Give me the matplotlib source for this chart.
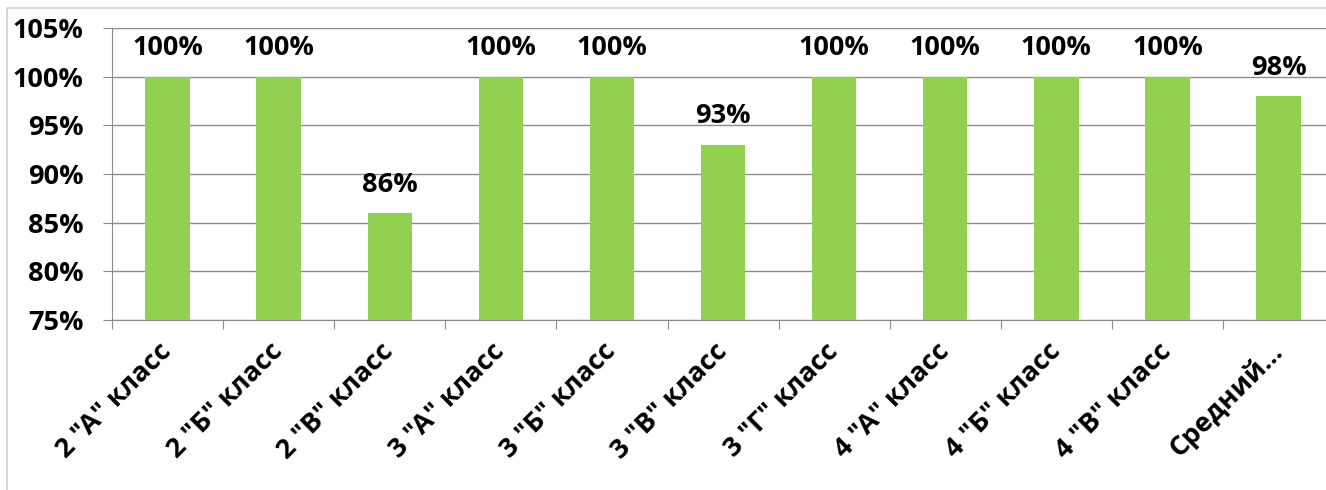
import numpy as np
from matplotlib import pyplot as plt
from matplotlib.patches import Rectangle

classes = ['2 "А" класс', '2 "Б" класс', '2 "В" класс', '3 "А" класс', '3 "Б" класс',
           '3 "В" класс', '3 "Г" класс', '4 "А" класс', '4 "Б" класс', '4 "В" класс', 'Средний...']
values = [100, 100, 86, 100, 100, 93, 100, 100, 100, 100, 98]
y_ticks = [75, 80, 85, 90, 95, 100, 105]

plt.rcParams['font.family'] = ['Open Sans', 'DejaVu Sans']
plt.rcParams['font.weight'] = 'bold'
FS = 19.5

fig = plt.figure(figsize=(13.26, 4.9), dpi=100)
# область построения немного выходит за правый край (как в оригинале)
ax = fig.add_axes([0.0845, 0.347, 0.9216, 0.596])

# рамка вокруг диаграммы
fig.patches.append(Rectangle((0.0053, -0.02), 1.2, 1.004, transform=fig.transFigure,
                             fill=False, edgecolor='#d0d0d0', linewidth=1.2, zorder=0,
                             clip_on=False))

x = np.arange(len(classes))
ax.bar(x, values, width=0.4, color='#92D050', zorder=3)

for xi, v in zip(x, values):
    ax.annotate(f'{v}%', (xi, v), xytext=(0, 11), textcoords='offset points',
                ha='center', va='bottom', fontsize=FS, fontweight='bold',
                annotation_clip=False)

ax.set_ylim(75, 105)
ax.set_xlim(-0.5, len(classes) - 0.5)
ax.set_yticks(y_ticks)
ax.set_yticklabels([f'{t}%' for t in y_ticks], fontsize=FS, fontweight='bold')
ax.grid(axis='y', color='#8c8c8c', linewidth=1.0, zorder=0)
ax.tick_params(axis='y', length=6.5, color='#8c8c8c', pad=14)

# деления оси X между категориями, подписи по центру
ax.set_xticks(np.arange(len(classes) + 1) - 0.5)
ax.set_xticklabels([])
ax.tick_params(axis='x', which='major', length=6.5, color='#8c8c8c')
ax.set_xticks(x, minor=True)
ax.set_xticklabels(classes, minor=True, rotation=45, ha='right', va='center',
                   rotation_mode='anchor', fontsize=FS, fontweight='bold')
ax.tick_params(axis='x', which='minor', length=0, pad=20)

for s in ['top', 'right']:
    ax.spines[s].set_visible(False)
ax.spines['left'].set_color('#8c8c8c')
ax.spines['bottom'].set_color('#8c8c8c')

plt.savefig('out.png', dpi=100)
